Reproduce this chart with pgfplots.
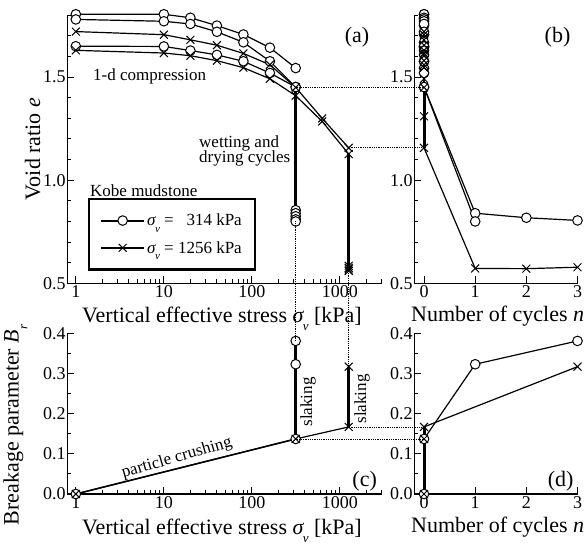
\documentclass[border=0pt]{standalone}
\usepackage{pgfplots}
\pgfplotsset{compat=1.18}
\usepackage{fontspec}
\setmainfont{Liberation Serif}
\newcommand\fs[1]{\fontsize{#1}{#1}\selectfont}
\newcommand\sv[1]{{\itshape σ}\kern-0.5pt\raisebox{-0.4em}{\fs{#1}\itshape v}}
\begin{document}
\begin{tikzpicture}
\useasboundingbox (0pt,0pt) rectangle (586pt,-546pt);
\pgfplotsset{
  myax/.style={
    scale only axis, clip=false,
    axis x line*=bottom, axis y line*=left,
    axis line style={line width=1.1pt},
    major tick length=7pt, minor tick length=4pt,
    tick style={line width=1pt, black},
    tick label style={font=\fs{18}},
    /pgf/number format/assume math mode=true,
    yticklabel style={/pgf/number format/fixed,/pgf/number format/fixed zerofill,/pgf/number format/precision=1, inner sep=1.5pt},
    xticklabel style={inner sep=2pt},
    every axis plot/.append style={line width=1.2pt, black},
  },
  cm/.style={mark=*, mark size=4.8pt, mark options={fill=white, draw=black, line width=1pt}},
  xm/.style={mark=x, mark size=5.6pt, mark options={line width=1pt}},
}
% ---------------- (a)
\begin{axis}[myax, name=A,
  width=314.7pt, height=268pt, at={(67.3pt,-283.3pt)}, anchor=south west,
  xmode=log, xmin=0.8, xmax=3000, ymin=0.5, ymax=1.8,
  xtick={1,10,100,1000}, xticklabels={1,10,100,1000},
  minor xtick={2,3,4,5,6,7,8,9,20,30,40,50,60,70,80,90,200,300,400,500,600,700,800,900,2000,3000},
  ytick={0.5,1.0,1.5}, minor ytick={0.6,0.7,0.8,0.9,1.1,1.2,1.3,1.4,1.6,1.7,1.8},
  legend image code/.code={
    \draw[#1, line width=2pt, mark=none] (0pt,0pt) -- (43pt,0pt);
    \draw[#1, only marks] plot coordinates {(21.5pt,0pt)};
  },
  legend cell align=left,
  legend style={at={(0.066,0.319)}, anchor=north west, draw=black, line width=2.2pt, fill=white,
    font=\fs{17}, inner xsep=11pt, inner ysep=13pt, row sep=10pt},
]
\addplot[line width=3pt, forget plot] coordinates {(314,1.452) (314,0.80)};
\addplot[line width=3pt, forget plot] coordinates {(1256,1.127) (1256,0.56)};
\addplot[cm, forget plot] coordinates {(1,1.805)(10,1.805)(20,1.788)(40,1.750)(80,1.707)(160,1.643)(314,1.544)};
\addplot[cm, forget plot] coordinates {(1,1.780)(10,1.771)(20,1.758)(40,1.720)(80,1.669)(160,1.577)(314,1.452)};
\addplot[cm, forget plot] coordinates {(1,1.650)(10,1.649)(20,1.629)(40,1.608)(80,1.577)(160,1.520)(314,1.452)};
\addplot[cm, only marks, forget plot] coordinates {(314,0.855)(314,0.84)(314,0.825)(314,0.81)(314,0.80)};
\addplot[xm, forget plot] coordinates {(1,1.721)(10,1.706)(20,1.681)(40,1.655)(80,1.615)(160,1.560)(314,1.450)(628,1.300)(1256,1.157)};
\addplot[xm, forget plot] coordinates {(1,1.630)(10,1.617)(20,1.604)(40,1.580)(80,1.546)(160,1.492)(314,1.410)(628,1.285)(1256,1.127)};
\addplot[xm, only marks, forget plot] coordinates {(1256,0.585)(1256,0.575)(1256,0.567)(1256,0.56)};
\coordinate (a1) at (axis cs:314,1.452);
\coordinate (a2) at (axis cs:1256,1.157);
\coordinate (a3) at (axis cs:314,0.80);
\coordinate (a4) at (axis cs:1256,0.56);
\addlegendimage{cm}
\addlegendentry{\sv{11} = \hphantom{1}314 kPa}
\addlegendimage{xm}
\addlegendentry{\sv{11} = 1256 kPa}
\end{axis}
% ---------------- (b)
\begin{axis}[myax, name=B,
  width=163.2pt, height=268pt, at={(414.3pt,-283.3pt)}, anchor=south west,
  xmin=-0.19, xmax=3, ymin=0.5, ymax=1.8,
  xtick={0,1,2,3}, xticklabels={0,1,2,3},
  ytick={0.5,1.0,1.5}, minor ytick={0.6,0.7,0.8,0.9,1.1,1.2,1.3,1.4,1.6,1.7,1.8},
]
\addplot[line width=3pt] coordinates {(0,1.157) (0,1.452)};
\addplot[cm] coordinates {(0,1.805)(0,1.805)(0,1.788)(0,1.750)(0,1.707)(0,1.643)(0,1.544)};
\addplot[cm] coordinates {(0,1.780)(0,1.771)(0,1.758)(0,1.720)(0,1.669)(0,1.577)(0,1.452)(1,0.84)(2,0.818)(3,0.805)};
\addplot[cm] coordinates {(0,1.650)(0,1.649)(0,1.629)(0,1.608)(0,1.577)(0,1.520)(0,1.452)(1,0.80)};
\addplot[xm] coordinates {(0,1.721)(0,1.706)(0,1.681)(0,1.655)(0,1.615)(0,1.560)(0,1.450)(0,1.310)(0,1.157)(1,0.572)(2,0.571)(3,0.578)};
\addplot[xm] coordinates {(0,1.630)(0,1.617)(0,1.604)(0,1.580)(0,1.546)(0,1.492)};
\coordinate (b1) at (axis cs:0,1.452);
\coordinate (b2) at (axis cs:0,1.157);
\end{axis}
% ---------------- (c)
\begin{axis}[myax, name=C,
  width=314.7pt, height=160.7pt, at={(67.3pt,-494pt)}, anchor=south west,
  xmode=log, xmin=0.8, xmax=3000, ymin=0, ymax=0.4,
  xtick={1,10,100,1000}, xticklabels={1,10,100,1000},
  minor xtick={2,3,4,5,6,7,8,9,20,30,40,50,60,70,80,90,200,300,400,500,600,700,800,900,2000,3000},
  ytick={0,0.1,0.2,0.3,0.4}, minor ytick={0.05,0.15,0.25,0.35},
]
\addplot[line width=3pt] coordinates {(314,0.137) (314,0.381)};
\addplot[line width=3pt] coordinates {(1256,0.167) (1256,0.317)};
\addplot[cm, line width=1.5pt] coordinates {(1,0)(314,0.137)};
\addplot[cm, only marks] coordinates {(314,0.323)(314,0.381)};
\addplot[xm] coordinates {(1,0)(314,0.137)(1256,0.167)};
\addplot[xm, only marks] coordinates {(1256,0.317)};
\coordinate (c1) at (axis cs:314,0.381);
\coordinate (c2) at (axis cs:1256,0.317);
\coordinate (c3) at (axis cs:314,0.137);
\coordinate (c4) at (axis cs:1256,0.167);
\end{axis}
% ---------------- (d)
\begin{axis}[myax, name=D,
  width=163.2pt, height=160.7pt, at={(414.3pt,-494pt)}, anchor=south west,
  xmin=-0.19, xmax=3, ymin=0, ymax=0.4,
  xtick={0,1,2,3}, xticklabels={0,1,2,3},
  ytick={0,0.1,0.2,0.3,0.4}, minor ytick={0.05,0.15,0.25,0.35},
]
\addplot[line width=3pt] coordinates {(0,0) (0,0.167)};
\addplot[cm] coordinates {(0,0)(0,0.137)(1,0.323)(3,0.381)};
\addplot[xm] coordinates {(0,0)(0,0.137)(0,0.167)(3,0.317)};
\coordinate (d1) at (axis cs:0,0.137);
\coordinate (d2) at (axis cs:0,0.167);
\end{axis}
% dotted connectors
\draw[densely dotted, line width=0.8pt] (a1) -- (b1);
\draw[densely dotted, line width=0.8pt] (a2) -- (b2);
\draw[densely dotted, line width=0.8pt] (a3) -- (c1);
\draw[densely dotted, line width=0.8pt] (a4) -- (c2);
\draw[densely dotted, line width=0.8pt] (c3) -- (d1);
\draw[densely dotted, line width=0.8pt] (c4) -- (d2);
% labels
\node[font=\fs{22}, anchor=base west, inner sep=0] at (82pt,-322pt) {Vertical effective stress \sv{13} [kPa]};
\node[font=\fs{22}, anchor=base west, inner sep=0] at (411pt,-321pt) {Number of cycles {\itshape n}};
\node[font=\fs{22}, anchor=base west, inner sep=0] at (82pt,-534pt) {Vertical effective stress \sv{13} [kPa]};
\node[font=\fs{22}, anchor=base west, inner sep=0] at (411pt,-532pt) {Number of cycles {\itshape n}};
\node[font=\fs{22}, rotate=90, anchor=base, inner sep=0] at (40pt,-149pt) {Void ratio {\itshape e}};
\node[font=\fs{22}, rotate=90, anchor=base, inner sep=0] at (18.5pt,-425pt) {Breakage parameter {\itshape B}\raisebox{-0.4em}{\fs{13}\itshape r}};
\node[font=\fs{17}, anchor=base west, inner sep=0] at (93pt,-80pt) {1-d compression};
\node[font=\fs{17}, anchor=base west, inner sep=0] at (199pt,-147pt) {wetting and};
\node[font=\fs{17}, anchor=base west, inner sep=0] at (199pt,-162pt) {drying cycles};
\node[font=\fs{17}, anchor=base west, inner sep=0] at (90pt,-196pt) {Kobe mudstone};
\node[font=\fs{17}, rotate=90, anchor=base, inner sep=0] at (312pt,-402pt) {slaking};
\node[font=\fs{17}, rotate=90, anchor=base, inner sep=0] at (366pt,-399pt) {slaking};
\node[font=\fs{17}, rotate=16, anchor=base, inner sep=0] at (178pt,-462pt) {particle crushing};
\node[font=\fs{22}, inner sep=0] at (357pt,-37pt) {(a)};
\node[font=\fs{22}, inner sep=0] at (557.5pt,-37pt) {(b)};
\node[font=\fs{22}, inner sep=0] at (364.7pt,-481.7pt) {(c)};
\node[font=\fs{22}, inner sep=0] at (560.7pt,-481.7pt) {(d)};
\end{tikzpicture}
\end{document}
